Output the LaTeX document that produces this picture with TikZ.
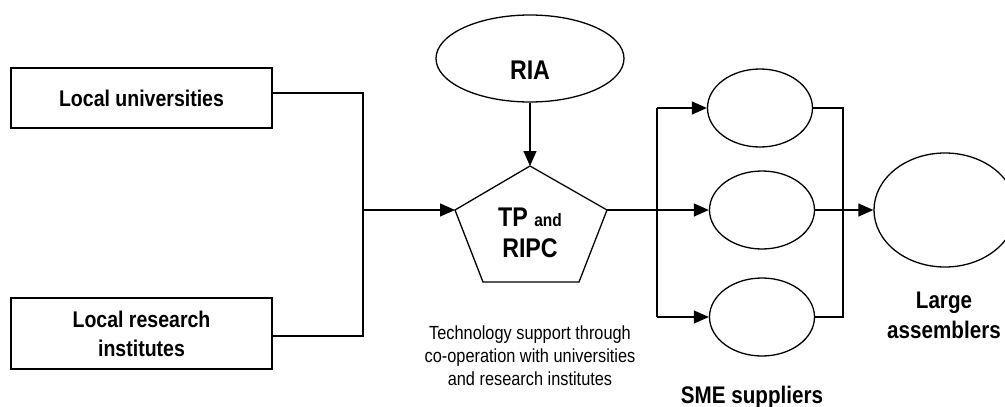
\documentclass[tikz,border=0pt]{standalone}
\usepackage{fontspec}
\setmainfont{Liberation Sans}[FakeStretch=0.86]
\usetikzlibrary{arrows.meta,shapes.geometric,calc}
\begin{document}
\begin{tikzpicture}[x=1pt,y=-1pt,
  line width=1.3pt,
  link/.style={draw,line join=miter},
  flow/.style={link,-{Triangle[length=15pt,width=13pt]}},
  srcbox/.style={draw,rectangle,minimum width=261pt,inner sep=0pt,align=center,
    font=\fontsize{22.7}{29}\selectfont\bfseries},
  oval/.style={draw,ellipse,inner sep=0pt},
  bigtext/.style={font=\fontsize{27}{33}\selectfont\bfseries,inner sep=0pt,align=center},
  caption/.style={font=\fontsize{24}{30}\selectfont\bfseries,inner sep=0pt,align=center},
  note/.style={font=\fontsize{19}{23}\selectfont,inner sep=0pt,align=center}]
\useasboundingbox (0,0) rectangle (1005,407);

% source boxes
\node[srcbox,minimum height=60pt] (uni) at (141.5,98) {Local universities};
\node[srcbox,minimum height=71pt] (inst) at (141.5,333.5) {Local research\\institutes};

% RIA
\node[oval,minimum width=188pt,minimum height=87pt] (ria) at (530,58.5) {};
\node[bigtext] (rialabel) at (530,70) {RIA};

% technology park pentagon
\coordinate (pt) at (530,166);
\coordinate (pl) at (455,210);
\coordinate (pr) at (607,210);
\coordinate (pbr) at (579,282);
\coordinate (pbl) at (483,282);
\draw[line join=miter] (pt) -- (pr) -- (pbr) -- (pbl) -- (pl) -- cycle;
\node[bigtext] (tp) at (530,233) {TP {\fontsize{18}{22}\selectfont and}\\[-2pt]RIPC};
\node[note] (tech) at (530,356) {Technology support through\\co-operation with universities\\and research institutes};

% SME suppliers
\node[oval,minimum width=105pt,minimum height=78pt] (s1) at (760,108) {};
\node[oval,minimum width=105pt,minimum height=78pt] (s2) at (762,210) {};
\node[oval,minimum width=105pt,minimum height=78pt] (s3) at (762,317) {};
\node[caption,anchor=base] (sme) at (752,403) {SME suppliers};

% large assemblers
\node[oval,minimum width=142pt,minimum height=114pt] (big) at (945,210) {};
\node[caption,anchor=base] (large) at (944,338) {Large\\assemblers};

% junctions
\coordinate (join) at (363,210);
\coordinate (split) at (657,210);
\coordinate (merge) at (843,210);

% connectors
\draw[link] ([yshift=5pt]uni.east) -| (join);
\draw[link] ([yshift=-2.5pt]inst.east) -| (join);
\draw[flow] (join) -- (pl);
\draw[flow] (rialabel |- ria.south) -- (pt);
\draw[link] (pr) -- (split);
\draw[flow] (split) -- (s2.west);
\draw[flow] (split |- s1.west) -- (s1.west);
\draw[flow] (split |- s3.west) -- (s3.west);
\draw[link] (split |- s1.west) -- (split |- s3.west);
\draw[link] (s1.east) -- (merge |- s1.east) -- (merge |- s3.east) -- (s3.east);
\draw[flow] (s2.east) -- (big.west);
\end{tikzpicture}
\end{document}
